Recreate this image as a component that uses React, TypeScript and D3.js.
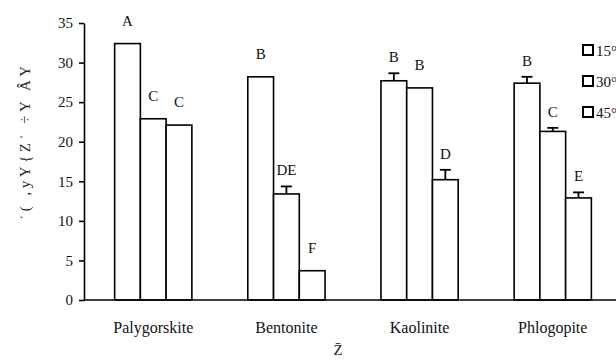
import React, { useEffect, useRef } from 'react';
import * as d3 from 'd3';

// categories and series
const minerals = ['Palygorskite', 'Bentonite', 'Kaolinite', 'Phlogopite'];
const temps = ['15°C', '30°C', '45°C'];
const values15 = [32.4, 28.2, 27.7, 27.4];
const values30 = [22.9, 13.4, 26.8, 21.3];
const values45 = [22.1, 3.7, 15.2, 12.9];
const err15 = [0, 0, 0.95, 0.8];
const err30 = [0, 0.95, 0, 0.45];
const err45 = [0, 0, 1.25, 0.7];
const letters15 = ['A', 'B', 'B', 'B'];
const letters30 = ['C', 'DE', 'B', 'C'];
const letters45 = ['C', 'F', 'D', 'E'];
const yTicks = [0, 5, 10, 15, 20, 25, 30, 35];
const yLabel = '˙(  ,yY{Z˙  ÷Y ÂY';
const xLabel = 'Z̄';

const W = 616;
const H = 360;
const margin = { top: 23, left: 84, bottom: 60 };
const font = 'serif';

export default function App() {
  const axisRef = useRef<SVGGElement>(null);

  const x = d3.scaleBand()
    .domain(minerals)
    .range([margin.left, 622])
    .paddingInner(0.42)
    .paddingOuter(0.23);

  const xSub = d3.scaleBand()
    .domain(temps)
    .range([0, x.bandwidth()]);

  const y = d3.scaleLinear()
    .domain([0, 35])
    .range([H - margin.bottom, margin.top]);

  const series = [
    { values: values15, errs: err15, letters: letters15 },
    { values: values30, errs: err30, letters: letters30 },
    { values: values45, errs: err45, letters: letters45 },
  ];

  useEffect(() => {
    const g = d3.select(axisRef.current);
    g.selectAll('*').remove();

    // y axis
    const yAxis = g.append('g')
      .attr('transform', `translate(${margin.left}, 0)`)
      .call(d3.axisLeft(y).tickValues(yTicks).tickSize(5).tickSizeOuter(0).tickPadding(6));
    yAxis.attr('font-family', null).attr('font-size', null);
    yAxis.select('.domain').attr('stroke', '#000').attr('stroke-width', 1.6);
    yAxis.selectAll('.tick line').attr('stroke', '#000').attr('stroke-width', 1.6);
    yAxis.selectAll('.tick text')
      .style('font-family', font)
      .style('font-size', '15px')
      .attr('fill', '#111');

    // x axis baseline runs to the edge
    g.append('line')
      .attr('x1', margin.left)
      .attr('x2', W)
      .attr('y1', y(0))
      .attr('y2', y(0))
      .attr('stroke', '#000')
      .attr('stroke-width', 1.6);
  }, []);

  return (
    <svg width={W} height={H}
      style={{ position: 'absolute', left: 0, top: 0, background: '#fff', fontFamily: font, fontSize: 15 }}>
      {/* bars */}
      {minerals.map((m, i) => (
        <g key={m} transform={`translate(${x(m)}, 0)`}>
          {series.map((s, j) => {
            const bx = xSub(temps[j])!;
            const bw = xSub.bandwidth();
            const v = s.values[i];
            const e = s.errs[i];
            const cx = bx + bw / 2;
            const top = y(v + e);
            return (
              <g key={j}>
                <rect x={bx} y={y(v)} width={bw} height={y(0) - y(v)}
                  fill="#fff" stroke="#000" strokeWidth={1.6} />
                {e > 0 && (
                  <g stroke="#000" strokeWidth={1.8}>
                    <line x1={cx} x2={cx} y1={y(v)} y2={top} />
                    <line x1={cx - 5.5} x2={cx + 5.5} y1={top} y2={top} />
                  </g>
                )}
                <text x={cx} y={top - (e > 0 ? 11 : 18)} textAnchor="middle" fill="#111">{s.letters[i]}</text>
              </g>
            );
          })}
          <text x={x.bandwidth() / 2} y={333} textAnchor="middle" fontSize={16} fill="#111">{m}</text>
        </g>
      ))}

      <g ref={axisRef} />

      {/* axis titles */}
      <text transform={`translate(30, 141) rotate(-90)`} textAnchor="middle"
        fill="#222" letterSpacing={3.5}>{yLabel}</text>
      <text x={338} y={355} textAnchor="middle" fill="#222">{xLabel}</text>

      {/* legend */}
      {temps.map((t, i) => (
        <g key={t} transform={`translate(583, ${45 + i * 31})`}>
          <rect x={0} y={0} width={10} height={10} fill="#fff" stroke="#000" strokeWidth={2} />
          <text x={13} y={10.5} fill="#111">{t}</text>
        </g>
      ))}
    </svg>
  );
}
